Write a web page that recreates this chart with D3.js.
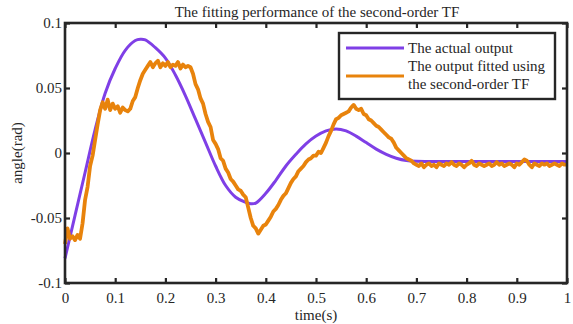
<!DOCTYPE html>
<html>
<head>
<meta charset="utf-8">
<script src="https://cdn.jsdelivr.net/npm/d3@7"></script>
<style>
  body { margin: 0; background: #fff; }
  svg text { font-family: "Liberation Serif", "Times New Roman", serif; fill: #262626; }
</style>
</head>
<body>
<svg id="chart" width="573" height="324"></svg>
<script>
// --- data ---
const xTicks = [0, 0.1, 0.2, 0.3, 0.4, 0.5, 0.6, 0.7, 0.8, 0.9, 1];
const xTickLabels = ["0", "0.1", "0.2", "0.3", "0.4", "0.5", "0.6", "0.7", "0.8", "0.9", "1"];
const yTicks = [-0.1, -0.05, 0, 0.05, 0.1];
const yTickLabels = ["-0.1", "-0.05", "0", "0.05", "0.1"];

// actual output (smooth)
const actualT = [0, 0.02, 0.04, 0.06, 0.08, 0.10, 0.12, 0.14, 0.15, 0.16, 0.18, 0.20, 0.22, 0.24, 0.26, 0.28,
  0.30, 0.32, 0.34, 0.36, 0.37, 0.38, 0.40, 0.42, 0.44, 0.46, 0.48, 0.50, 0.52, 0.54, 0.56, 0.58,
  0.60, 0.62, 0.64, 0.66, 0.68, 0.70, 0.75, 0.85, 1.00];
const actualV = [-0.081, -0.048, -0.015, 0.018, 0.046, 0.065, 0.079, 0.0865, 0.0875, 0.087, 0.081, 0.073, 0.060, 0.044, 0.026, 0.008,
  -0.010, -0.025, -0.034, -0.038, -0.039, -0.0385, -0.031, -0.021, -0.010, -0.001, 0.007, 0.013, 0.017, 0.0185, 0.017, 0.013,
  0.008, 0.003, -0.001, -0.004, -0.0058, -0.0064, -0.0065, -0.0065, -0.0065];

// fitted output (noisy), sampled every 0.005 s
const fittedStep = 0.005;
const fittedV = [
  -0.070, -0.058, -0.066, -0.064, -0.067, -0.063, -0.066, -0.054, -0.036, -0.026,
  -0.010, -0.002, 0.010, 0.022, 0.033, 0.039, 0.034, 0.041, 0.033, 0.038,
  0.034, 0.036, 0.031, 0.035, 0.033, 0.032, 0.034, 0.040, 0.043, 0.050,
  0.056, 0.061, 0.064, 0.067, 0.070, 0.066, 0.069, 0.071, 0.066, 0.069,
  0.067, 0.070, 0.066, 0.068, 0.067, 0.070, 0.065, 0.068, 0.066, 0.067,
  0.066, 0.061, 0.053, 0.049, 0.042, 0.038, 0.030, 0.024, 0.020, 0.010,
  0.007, 0.003, -0.004, -0.006, -0.012, -0.015, -0.020, -0.022, -0.025, -0.028,
  -0.029, -0.032, -0.034, -0.042, -0.050, -0.056, -0.058, -0.062, -0.059, -0.056,
  -0.055, -0.052, -0.049, -0.045, -0.043, -0.040, -0.036, -0.033, -0.031, -0.027,
  -0.023, -0.020, -0.018, -0.014, -0.012, -0.010, -0.007, -0.005, -0.004, -0.002,
  -0.002, 0.001, 0.000, 0.004, 0.008, 0.013, 0.017, 0.022, 0.026, 0.027,
  0.029, 0.030, 0.031, 0.032, 0.035, 0.037, 0.034, 0.033, 0.034, 0.030,
  0.029, 0.026, 0.025, 0.023, 0.021, 0.020, 0.018, 0.016, 0.014, 0.012,
  0.011, 0.008, 0.004, 0.002, 0.000, -0.002, -0.004, -0.005, -0.006, -0.008,
  -0.009,
  -0.010, -0.008, -0.011, -0.009, -0.008, -0.010, -0.009, -0.011, -0.008, -0.009,
  -0.010, -0.008, -0.009, -0.007, -0.009, -0.010, -0.008, -0.009, -0.011, -0.009,
  -0.008, -0.006, -0.009, -0.010, -0.008, -0.009, -0.010, -0.009, -0.008, -0.010,
  -0.009, -0.007, -0.009, -0.008, -0.010, -0.009, -0.008, -0.009, -0.011, -0.008,
  -0.009, -0.007, -0.005, -0.006, -0.009, -0.011, -0.008, -0.009, -0.010, -0.008,
  -0.009, -0.008, -0.010, -0.009, -0.008, -0.009, -0.010, -0.008, -0.009, -0.009
];

const seriesNames = ["The actual output", ["The output fitted using", "the second-order TF"]];
const colors = ["#7f3fe6", "#e8830c"];

// --- layout ---
const svg = d3.select("#chart");
const plotLeft = 65, plotRight = 567, plotTop = 23, plotBottom = 283;
const axisColor = "#262626";
const fontSize = "15px";

const x = d3.scaleLinear().domain([0, 1]).range([plotLeft, plotRight]);
const y = d3.scaleLinear().domain([-0.1, 0.1]).range([plotBottom, plotTop]);

const actual = actualT.map((t, i) => [t, actualV[i]]);
const fitted = fittedV.map((v, i) => [i * fittedStep, v]);

const line = d3.line().x(d => x(d[0])).y(d => y(d[1]));

const plot = svg.append("g");
plot.append("path")
  .attr("d", line.curve(d3.curveCatmullRom)(actual))
  .attr("fill", "none").attr("stroke", colors[0]).attr("stroke-width", 3);
plot.append("path")
  .attr("d", line.curve(d3.curveLinear)(fitted))
  .attr("fill", "none").attr("stroke", colors[1]).attr("stroke-width", 3.8)
  .attr("stroke-linejoin", "round");

// --- axes ---
function styleAxis(g) {
  g.select(".domain").remove();
  g.selectAll(".tick line").attr("stroke", axisColor).attr("stroke-width", 2.2);
  g.selectAll(".tick text").style("font-size", fontSize).attr("fill", axisColor);
}

svg.append("g").attr("transform", `translate(0,${plotBottom})`)
  .call(d3.axisBottom(x).tickValues(xTicks).tickFormat((d, i) => xTickLabels[i])
    .tickSizeInner(-5).tickSizeOuter(0).tickPadding(9))
  .call(styleAxis);
svg.append("g").attr("transform", `translate(0,${plotTop})`)
  .call(d3.axisTop(x).tickValues(xTicks).tickFormat("").tickSizeInner(-5).tickSizeOuter(0))
  .call(styleAxis);
svg.append("g").attr("transform", `translate(${plotLeft},0)`)
  .call(d3.axisLeft(y).tickValues(yTicks).tickFormat((d, i) => yTickLabels[i])
    .tickSizeInner(-5).tickSizeOuter(0).tickPadding(3))
  .call(styleAxis);
svg.append("g").attr("transform", `translate(${plotRight},0)`)
  .call(d3.axisRight(y).tickValues(yTicks).tickFormat("").tickSizeInner(-5).tickSizeOuter(0))
  .call(styleAxis);

svg.append("rect")
  .attr("x", plotLeft).attr("y", plotTop).attr("width", plotRight - plotLeft).attr("height", plotBottom - plotTop)
  .attr("fill", "none").attr("stroke", axisColor).attr("stroke-width", 2.6);

// --- labels ---
svg.append("text").attr("x", (plotLeft + plotRight) / 2 + 1).attr("y", 17)
  .attr("text-anchor", "middle").style("font-size", fontSize)
  .text("The fitting performance of the second-order TF");
svg.append("text").attr("x", (plotLeft + plotRight) / 2).attr("y", 320)
  .attr("text-anchor", "middle").style("font-size", fontSize).text("time(s)");
svg.append("text").attr("transform", `translate(22,${(plotTop + plotBottom) / 2}) rotate(-90)`)
  .attr("text-anchor", "middle").style("font-size", fontSize).text("angle(rad)");

// --- legend ---
const legend = svg.append("g");
legend.append("rect").attr("x", 339).attr("y", 33).attr("width", 216).attr("height", 66)
  .attr("fill", "#fff").attr("stroke", axisColor).attr("stroke-width", 2.4);
legend.append("line").attr("x1", 346).attr("x2", 404).attr("y1", 48).attr("y2", 48)
  .attr("stroke", colors[0]).attr("stroke-width", 3);
legend.append("line").attr("x1", 346).attr("x2", 404).attr("y1", 76).attr("y2", 76)
  .attr("stroke", colors[1]).attr("stroke-width", 3);
legend.append("text").attr("x", 408).attr("y", 53).style("font-size", fontSize).text(seriesNames[0]);
legend.append("text").attr("x", 408).attr("y", 71).style("font-size", fontSize).text(seriesNames[1][0]);
legend.append("text").attr("x", 408).attr("y", 89).style("font-size", fontSize).text(seriesNames[1][1]);
</script>
</body>
</html>
